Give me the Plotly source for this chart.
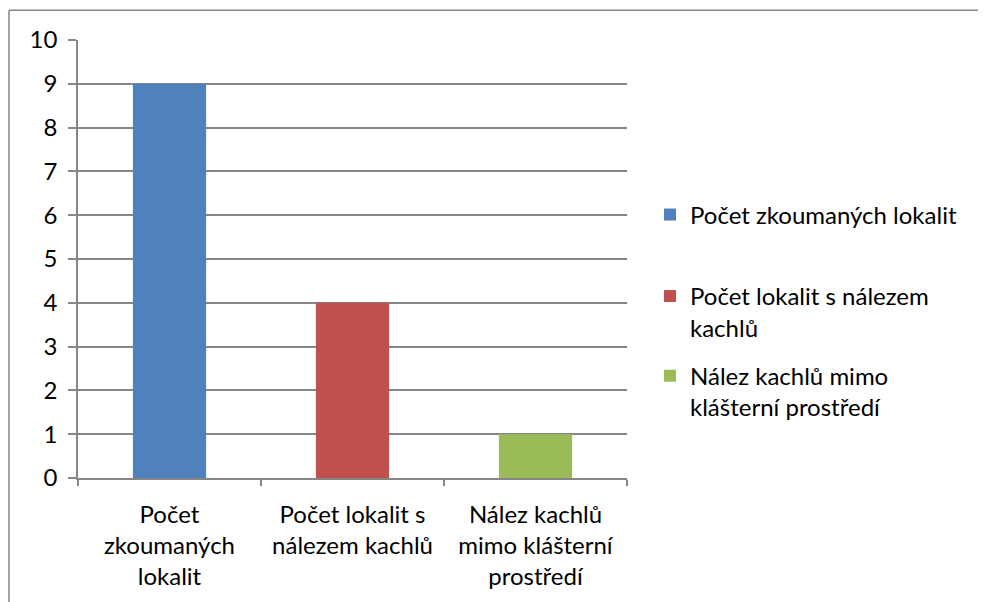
import plotly.graph_objects as go

categories = ["Počet<br>zkoumaných<br>lokalit", "Počet lokalit s<br>nálezem kachlů", "Nález kachlů<br>mimo klášterní<br>prostředí"]
series_names = ["Počet zkoumaných lokalit", "Počet lokalit s nálezem<br>kachlů", "Nález kachlů mimo<br>klášterní prostředí"]
values = [9, 4, 1]
colors = ["#4F81BD", "#C0504D", "#9BBB59"]
y_ticks = list(range(0, 11))

FONT = "Lato"
FS = 24
OFF = 8  # page body margin
W, H = 986 - OFF, 602 - OFF
L, T = 78 - OFF, 40 - OFF
R = W - (627 - OFF)
B = H - (480 - OFF)
pw, ph = W - L - R, H - T - B

def px_x(x):  # screen px -> paper x
    return (x - OFF - L) / pw

def px_y(y):  # screen px -> paper y
    return (H - B - (y - OFF)) / ph

fig = go.Figure()
legend_ids = ["legend", "legend2", "legend3"]
for i in range(3):
    fig.add_trace(go.Bar(
        x=[categories[i]], y=[values[i]], name=series_names[i],
        marker=dict(color=colors[i], line=dict(width=0)),
        width=0.4, legend=legend_ids[i], showlegend=True,
    ))

grid_c = "#868686"
legend_text_ys = [215, 297, 377]
leg_common = dict(font=dict(family=FONT, size=FS, color="#000"), bgcolor="rgba(0,0,0,0)",
                  valign="top", itemwidth=30, xanchor="left", yanchor="top")
layout_legends = {}
for lid, ty in zip(legend_ids, legend_text_ys):
    layout_legends[lid] = dict(x=px_x(650), y=px_y(ty - 22), **leg_common)

fig.update_layout(
    width=W, height=H,
    margin=dict(l=L, r=R, t=T, b=B, pad=0),
    paper_bgcolor="white", plot_bgcolor="white",
    barmode="overlay",
    font=dict(family=FONT, size=FS, color="#000"),
    xaxis=dict(
        categoryorder="array", categoryarray=categories,
        range=[-0.5, 2.5], showgrid=False,
        showline=True, linecolor=grid_c, linewidth=1.5,
        ticks="outside", tickson="boundaries", ticklen=6, tickcolor=grid_c, tickwidth=1.5,
        tickfont=dict(family=FONT, size=FS, color="#000"),
        ticklabelstandoff=14,
    ),
    yaxis=dict(
        range=[0, 10], tickvals=y_ticks, showgrid=True, gridcolor=grid_c, gridwidth=1.5,
        showline=True, linecolor=grid_c, linewidth=1.5, zeroline=False,
        ticks="outside", ticklen=8, tickcolor=grid_c, tickwidth=1.5,
        tickfont=dict(family=FONT, size=FS, color="#000"),
        ticklabelstandoff=6,
    ),
    **layout_legends,
)

# outer chart frame (top and left edges visible)
fig.add_shape(type="line", xref="paper", yref="paper", x0=px_x(9), x1=px_x(1100), y0=px_y(10), y1=px_y(10),
              line=dict(color="#878787", width=1.5))
fig.add_shape(type="line", xref="paper", yref="paper", x0=px_x(9), x1=px_x(9), y0=px_y(10), y1=px_y(700),
              line=dict(color="#878787", width=1.5))

fig.write_html("out.html")
